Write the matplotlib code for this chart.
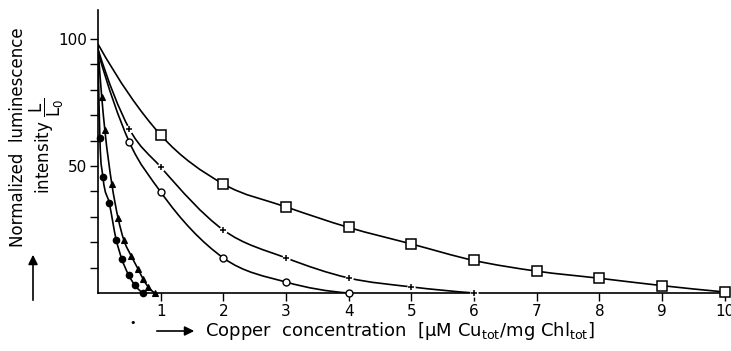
import matplotlib
matplotlib.use("Agg")
import matplotlib.pyplot as plt
import numpy as np
from matplotlib.path import Path
from matplotlib.patches import PathPatch, FancyArrowPatch

plt.rcParams['font.family'] = ['DejaVu Sans']
plt.rcParams['mathtext.fontset'] = 'dejavusans'

# (x in uM Cu / mg Chl, y in % of L0)
sq_x = [0, 1, 2, 3, 4, 5, 6, 7, 8, 9, 10]
sq_y = [98, 62.2, 42.9, 33.9, 25.8, 19.3, 12.8, 8.6, 5.8, 2.9, 0.4]

cross_x = [0, 0.5, 1, 2, 3, 4, 5, 6]
cross_y = [96, 64.6, 49.6, 24.8, 13.8, 5.9, 2.4, 0]

circ_x = [0, 0.5, 1, 2, 3, 4]
circ_y = [95, 59.4, 39.8, 13.8, 4.3, 0]

tri_x = [0, 0.06, 0.11, 0.22, 0.32, 0.41, 0.53, 0.64, 0.72, 0.8, 0.91]
tri_y = [97, 77, 64, 43, 29.5, 21, 14.6, 9.4, 5.5, 2.4, 0]

dot_x = [0, 0.03, 0.08, 0.18, 0.29, 0.38, 0.49, 0.59, 0.72]
dot_y = [96, 61, 45.5, 35.4, 21, 13.4, 7, 3, 0]

x_ticks = list(range(1, 11))
y_ticks = list(range(10, 101, 10))
y_labels = {50: '50', 100: '100'}


def smooth_curve(xs, ys):
    """smooth curve through the points (parabolic tangents, bezier segments)"""
    xs = np.asarray(xs, float)
    ys = np.asarray(ys, float)
    h = np.diff(xs)
    d = np.diff(ys) / h
    n = len(xs)
    m = np.zeros(n)
    for i in range(1, n - 1):
        if d[i - 1] * d[i] > 0:
            m[i] = (h[i] * d[i - 1] + h[i - 1] * d[i]) / (h[i - 1] + h[i])
    m[0] = ((2 * h[0] + h[1]) * d[0] - h[0] * d[1]) / (h[0] + h[1])
    if m[0] * d[0] <= 0:
        m[0] = d[0]
    m[-1] = ((2 * h[-1] + h[-2]) * d[-1] - h[-1] * d[-2]) / (h[-1] + h[-2])
    if m[-1] * d[-1] <= 0:
        m[-1] = 0
    verts = [(xs[0], ys[0])]
    codes = [Path.MOVETO]
    for i in range(n - 1):
        verts += [(xs[i] + h[i] / 3, ys[i] + m[i] * h[i] / 3),
                  (xs[i + 1] - h[i] / 3, ys[i + 1] - m[i + 1] * h[i] / 3),
                  (xs[i + 1], ys[i + 1])]
        codes += [Path.CURVE4] * 3
    return PathPatch(Path(verts, codes), fill=False, lw=1.2, color='black',
                     capstyle='round', zorder=2)


fig = plt.figure(figsize=(7.31, 3.51), dpi=100)
ax = fig.add_axes([98 / 731, 1 - 293 / 351, (726 - 98) / 731, (293 - 10) / 351])
ax.set_xlim(0, 10.02)
ax.set_ylim(0, 111.4)

for xs, ys in [(sq_x, sq_y), (cross_x, cross_y), (circ_x, circ_y),
               (tri_x, tri_y), (dot_x, dot_y)]:
    ax.add_patch(smooth_curve(xs, ys))

ax.plot(sq_x[1:], sq_y[1:], 's', ms=6.5, mfc='white', mec='black', mew=1.1,
        clip_on=False, zorder=4)
ax.plot(cross_x[1:], cross_y[1:], 'o', ms=6, mfc='white', mec='none',
        clip_on=False, zorder=3)
ax.plot(cross_x[1:], cross_y[1:], '+', ms=5, mec='black', mew=1.1,
        clip_on=False, zorder=4)
ax.plot(circ_x[1:], circ_y[1:], 'o', ms=5, mfc='white', mec='black', mew=1.0,
        clip_on=False, zorder=4)
ax.plot(tri_x[1:], tri_y[1:], '^', ms=5, mfc='black', mec='black', mew=0.8,
        clip_on=False, zorder=4)
ax.plot(dot_x[1:], dot_y[1:], 'o', ms=4.5, mfc='black', mec='black',
        clip_on=False, zorder=4)

for s in ['top', 'right']:
    ax.spines[s].set_visible(False)
for s in ['left', 'bottom']:
    ax.spines[s].set_linewidth(1.2)

ax.set_xticks(x_ticks)
ax.set_xticklabels([str(v) for v in x_ticks], fontsize=11)
ax.set_yticks(y_ticks)
ax.set_yticklabels([y_labels.get(v, '') for v in y_ticks], fontsize=11)
ax.tick_params(axis='both', direction='out', length=6, width=1.0, pad=2)

# axis titles
fig.text(18 / 731, 1 - 137 / 351, 'Normalized  luminescence', rotation=90,
         ha='center', va='center', fontsize=12)
fig.text(47 / 731, 1 - 146 / 351, r'intensity $\dfrac{\mathrm{L}}{\mathrm{L_0}}$',
         rotation=90, ha='center', va='center', fontsize=12)
fig.text(205 / 731, 1 - 331 / 351,
         r'Copper  concentration  [μM Cu$_{\mathrm{tot}}$/mg Chl$_{\mathrm{tot}}$]',
         ha='left', va='center', fontsize=13)

# little arrows next to the titles
fig.patches.append(FancyArrowPatch((33 / 731, 1 - 303 / 351), (33 / 731, 1 - 252 / 351),
                                   transform=fig.transFigure, arrowstyle='-|>',
                                   mutation_scale=14, lw=1.2, color='black'))
fig.patches.append(FancyArrowPatch((154 / 731, 1 - 331 / 351), (197 / 731, 1 - 331 / 351),
                                   transform=fig.transFigure, arrowstyle='-|>',
                                   mutation_scale=14, lw=1.2, color='black'))
fig.text(133 / 731, 1 - 323 / 351, '•', ha='center', va='center', fontsize=8)

fig.savefig('out.png', dpi=100)
